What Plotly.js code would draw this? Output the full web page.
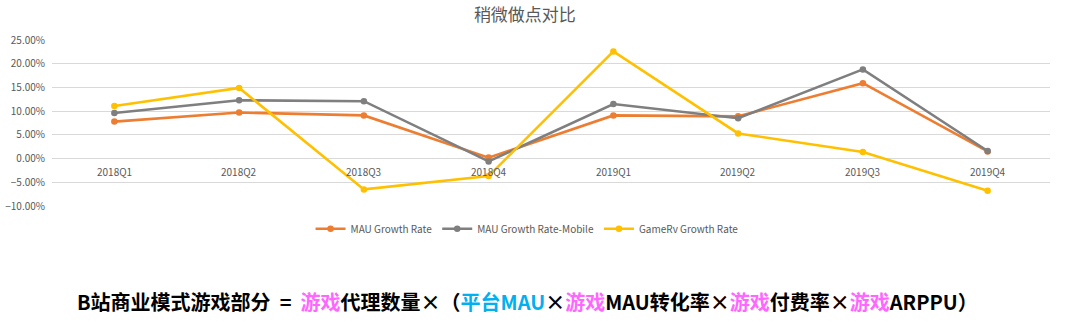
<!DOCTYPE html>
<html>
<head>
<meta charset="utf-8">
<script src="https://cdn.plot.ly/plotly-3.0.1.min.js"></script>
<style>html,body{margin:0;padding:0;background:#fff;}#chart{width:1080px;height:333px;}</style>
</head>
<body>
<div id="chart"></div>
<script>
const categories = ["2018Q1","2018Q2","2018Q3","2018Q4","2019Q1","2019Q2","2019Q3","2019Q4"];
const mauGrowth = [0.078, 0.097, 0.091, 0.002, 0.091, 0.089, 0.159, 0.015];
const mauMobileGrowth = [0.096, 0.123, 0.121, -0.006, 0.115, 0.085, 0.188, 0.016];
const gameRvGrowth = [0.111, 0.149, -0.065, -0.037, 0.226, 0.053, 0.014, -0.068];
const seriesNames = ["MAU Growth Rate", "MAU Growth Rate-Mobile", "GameRv Growth Rate"];
const yTicks = [-0.10, -0.05, 0, 0.05, 0.10, 0.15, 0.20, 0.25];
const chartTitle = "稍微做点对比";

const colors = ["#ED7D31", "#7F7F7F", "#FFC000"];
const seriesData = [mauGrowth, mauMobileGrowth, gameRvGrowth];
const traces = seriesData.map((vals, i) => ({
  type: "scatter", mode: "lines+markers", name: seriesNames[i],
  x: categories, y: vals,
  line: {color: colors[i], width: 2.6},
  marker: {color: colors[i], size: 6.5}
}));

const pink = "#FF66FF", blue = "#00B0F0";
const formula = '<b>B站商业模式游戏部分  =  <span style="color:' + pink + '">游戏</span>代理数量×（<span style="color:' + blue + '">平台MAU</span>×<span style="color:' + pink + '">游戏</span>MAU转化率×<span style="color:' + pink + '">游戏</span>付费率×<span style="color:' + pink + '">游戏</span>ARPPU）</b>';

const annotations = categories.map(c => ({
  x: c, y: 0, xref: "x", yref: "y", text: c, showarrow: false,
  yanchor: "top", yshift: -3, font: {size: 10, color: "#595959"}
}));
annotations.push({
  x: 0.476, y: -0.578, xref: "paper", yref: "paper", text: formula, showarrow: false,
  xanchor: "center", yanchor: "middle",
  font: {size: 20, color: "#000000", family: "Noto Sans CJK SC, sans-serif"}
});

const layout = {
  width: 1080, height: 333,
  margin: {l: 52, r: 30, t: 40, b: 127},
  paper_bgcolor: "#fff", plot_bgcolor: "#fff",
  font: {family: "Noto Sans CJK SC, Noto Sans, sans-serif", color: "#595959"},
  title: {text: chartTitle, x: 0.486, xanchor: "center", y: 0.955, yanchor: "middle",
          font: {size: 17, color: "#595959"}},
  xaxis: {type: "category", range: [-0.5, 7.5], showticklabels: false, showgrid: false,
          zeroline: false, showline: false, fixedrange: true},
  yaxis: {range: [-0.10, 0.25], tickvals: yTicks, tickformat: ".2%", showgrid: true,
          gridcolor: "#D9D9D9", gridwidth: 1, zeroline: false, showline: false,
          tickfont: {size: 10, color: "#595959"}, ticks: "", ticklabelstandoff: 6},
  showlegend: true,
  legend: {orientation: "h", x: 0.476, xanchor: "center", y: -0.05, yanchor: "top",
           font: {size: 10, color: "#595959"}, itemwidth: 30, tracegroupgap: 0},
  annotations: annotations
};

Plotly.newPlot("chart", traces, layout, {displayModeBar: false, staticPlot: true});
</script>
</body>
</html>
